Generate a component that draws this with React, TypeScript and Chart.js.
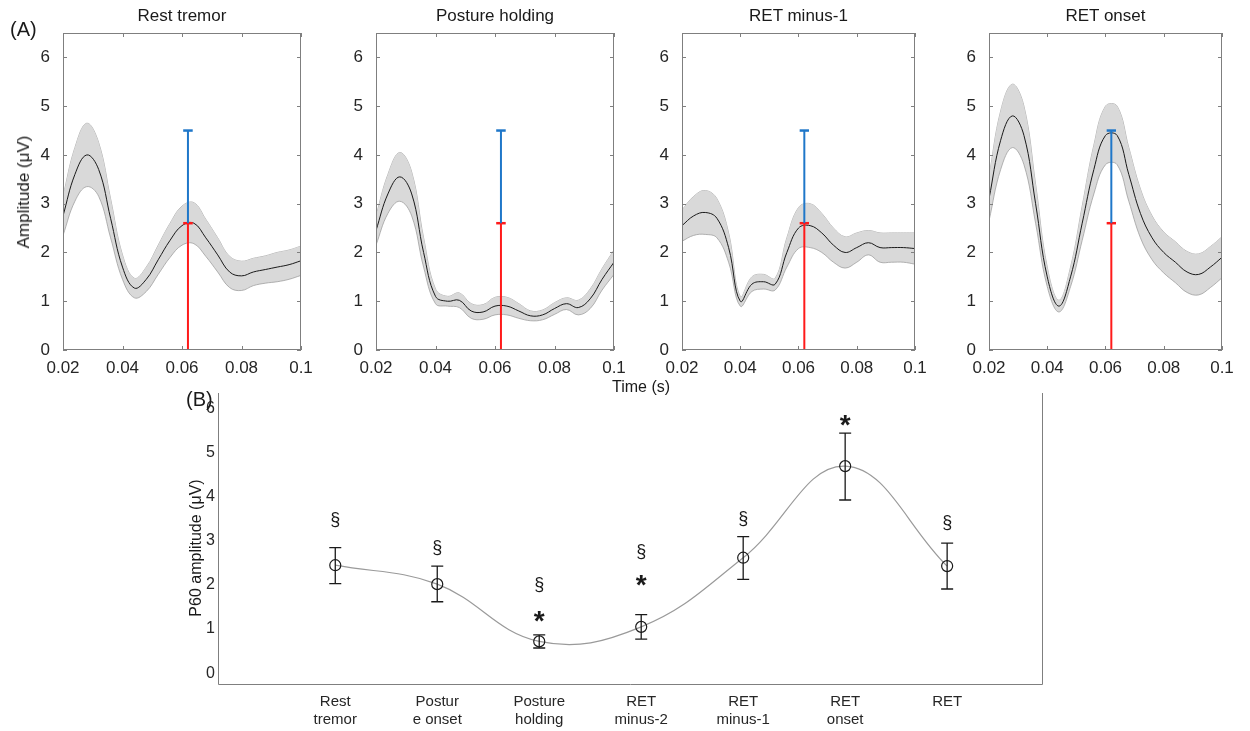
import { useEffect, useRef } from "react"
import { Chart, registerables } from "chart.js"

Chart.register(...registerables)

const FONT = "'Liberation Sans', Arial, sans-serif"

// panel A: evoked waveforms, sampled every 4 ms
const TIMES = [0.02, 0.024, 0.028, 0.032, 0.036, 0.04, 0.044, 0.048, 0.052, 0.056, 0.06, 0.064, 0.068, 0.072, 0.076, 0.08, 0.084, 0.088, 0.092, 0.096, 0.1]

const restMean = [2.75, 3.6, 4.0, 3.7, 2.7, 1.7, 1.27, 1.45, 1.85, 2.25, 2.55, 2.6, 2.3, 1.95, 1.6, 1.52, 1.6, 1.65, 1.7, 1.75, 1.83]
const restSd = [0.4, 0.55, 0.65, 0.55, 0.4, 0.25, 0.2, 0.25, 0.3, 0.35, 0.4, 0.42, 0.38, 0.35, 0.32, 0.3, 0.28, 0.28, 0.3, 0.3, 0.3]

const postureMean = [2.45, 3.2, 3.55, 3.2, 2.0, 1.1, 1.0, 1.02, 0.8, 0.78, 0.9, 0.9, 0.8, 0.7, 0.72, 0.85, 0.95, 0.87, 1.05, 1.45, 1.8]
const postureSd = [0.3, 0.4, 0.5, 0.45, 0.3, 0.15, 0.1, 0.15, 0.15, 0.15, 0.18, 0.18, 0.15, 0.1, 0.1, 0.12, 0.12, 0.15, 0.2, 0.22, 0.25]

const minus1Mean = [2.55, 2.75, 2.82, 2.7, 2.1, 1.0, 1.35, 1.4, 1.35, 2.0, 2.5, 2.55, 2.4, 2.15, 2.0, 2.1, 2.2, 2.1, 2.1, 2.1, 2.08]
const minus1Sd = [0.32, 0.4, 0.45, 0.4, 0.3, 0.1, 0.15, 0.15, 0.12, 0.3, 0.42, 0.45, 0.4, 0.35, 0.32, 0.3, 0.25, 0.3, 0.3, 0.3, 0.32]

const onsetMean = [3.1, 4.3, 4.8, 4.4, 3.0, 1.5, 0.9, 1.5, 2.6, 3.7, 4.4, 4.4, 3.6, 2.8, 2.3, 2.0, 1.8, 1.6, 1.55, 1.7, 1.9]
const onsetSd = [0.45, 0.6, 0.65, 0.6, 0.4, 0.2, 0.12, 0.2, 0.35, 0.5, 0.6, 0.6, 0.55, 0.5, 0.45, 0.42, 0.42, 0.42, 0.42, 0.42, 0.42]

const MARK_T = 0.062
const RED_TOP = 2.6
const BLUE_TOP = 4.5

// panel B: P60 amplitude per condition
const conditions = [["Rest", "tremor"], ["Postur", "e onset"], ["Posture", "holding"], ["RET", "minus-2"], ["RET", "minus-1"], ["RET", "onset"], ["RET"]]
const p60Mean = [2.45, 2.02, 0.72, 1.05, 2.62, 4.7, 2.43]
const p60Upper = [2.85, 2.43, 0.87, 1.33, 3.1, 5.45, 2.95]
const p60Lower = [2.03, 1.62, 0.57, 0.77, 2.13, 3.93, 1.91]
const sectionY = [3.48, 2.84, 2.0, 2.75, 3.5, null, 3.4]
const starY = [null, null, 1.3, 2.1, null, 5.75, null]

type Rect = { l: number; t: number; r: number; b: number }

const noPad = (s: any) => { s.paddingTop = 0; s.paddingBottom = 0; s.paddingLeft = 0; s.paddingRight = 0 }
const noGrid = { display: false, drawTicks: false, tickLength: 0 }

const boxPlugin = {
  id: "box",
  afterDraw(chart: any) {
    const { ctx, chartArea: a, scales } = chart
    ctx.save()
    ctx.strokeStyle = "#7f7f7f"
    ctx.lineWidth = 1
    ctx.strokeRect(a.left + 0.5, a.top + 0.5, a.right - a.left - 1, a.bottom - a.top - 1)
    ctx.beginPath()
    scales.x.ticks.forEach((_: any, i: number) => {
      const px = Math.round(scales.x.getPixelForTick(i)) + 0.5
      ctx.moveTo(px, a.bottom); ctx.lineTo(px, a.bottom - 4)
      ctx.moveTo(px, a.top); ctx.lineTo(px, a.top + 4)
    })
    scales.y.ticks.forEach((_: any, i: number) => {
      const py = Math.round(scales.y.getPixelForTick(i)) + 0.5
      ctx.moveTo(a.left, py); ctx.lineTo(a.left + 4, py)
      ctx.moveTo(a.right, py); ctx.lineTo(a.right - 4, py)
    })
    ctx.stroke()
    ctx.restore()
  },
}

const pts = (ys: number[]) => ys.map((y, i) => ({ x: TIMES[i], y }))

function WavePanel({ rect, mean, sd }: { rect: Rect; mean: number[]; sd: number[] }) {
  const ref = useRef<HTMLCanvasElement>(null)
  const Y = 45, T = 10, R = 12, X = 34
  useEffect(() => {
    if (!ref.current) return
    const cap = 0.0016
    const line = (data: any[], color: string, w = 2) => ({ data, borderColor: color, borderWidth: w, pointRadius: 0, tension: 0, fill: false, order: 0 })
    const chart = new Chart(ref.current, {
      type: "line",
      data: {
        datasets: [
          { data: pts(mean.map((m, i) => m + sd[i])), borderColor: "#a0a0a0", borderWidth: 0.8, pointRadius: 0, tension: 0.4, fill: false, order: 3 },
          { data: pts(mean.map((m, i) => m - sd[i])), borderColor: "#a0a0a0", borderWidth: 0.8, pointRadius: 0, tension: 0.4, fill: "-1", backgroundColor: "#d9d9d9", order: 2 },
          { data: pts(mean), borderColor: "#1a1a1a", borderWidth: 1, pointRadius: 0, tension: 0.4, fill: false, order: 1 },
          line([{ x: MARK_T, y: RED_TOP }, { x: MARK_T, y: BLUE_TOP }], "#1f77c9"),
          line([{ x: MARK_T - cap, y: BLUE_TOP }, { x: MARK_T + cap, y: BLUE_TOP }], "#1f77c9", 2.5),
          line([{ x: MARK_T, y: 0 }, { x: MARK_T, y: RED_TOP }], "#ff1a1a"),
          line([{ x: MARK_T - cap, y: RED_TOP }, { x: MARK_T + cap, y: RED_TOP }], "#ff1a1a", 2.5),
        ] as any,
      },
      options: {
        animation: false,
        responsive: false,
        layout: { padding: { left: 0, top: T, right: R, bottom: 0 } },
        plugins: { legend: { display: false }, tooltip: { enabled: false } },
        scales: {
          x: {
            type: "linear", min: 0.02, max: 0.1,
            afterBuildTicks: (s: any) => { s.ticks = [0.02, 0.04, 0.06, 0.08, 0.1].map((v) => ({ value: v })) },
            afterFit: (s: any) => { s.height = X; noPad(s) },
            ticks: { color: "#262626", font: { family: FONT, size: 17 }, padding: 8, maxRotation: 0, callback: (v: any) => String(Number(v.toFixed(2))) },
            grid: noGrid, border: { display: false },
          },
          y: {
            min: 0, max: 6.5,
            afterBuildTicks: (s: any) => { s.ticks = [0, 1, 2, 3, 4, 5, 6].map((v) => ({ value: v })) },
            afterFit: (s: any) => { s.width = Y; noPad(s) },
            ticks: { color: "#262626", font: { family: FONT, size: 17 }, padding: 13 },
            grid: noGrid, border: { display: false },
          },
        },
      },
      plugins: [boxPlugin],
    })
    return () => chart.destroy()
  }, [])
  const w = Y + rect.r - rect.l + R
  const h = T + rect.b - rect.t + X
  return <canvas ref={ref} width={w} height={h} style={{ position: "absolute", left: rect.l - Y, top: rect.t - T, width: w, height: h }} />
}

const summaryPlugin = {
  id: "summary",
  afterDatasetsDraw(chart: any) {
    const { ctx, chartArea: a, scales } = chart
    const { x, y } = scales
    ctx.save()
    ctx.strokeStyle = "#7f7f7f"
    ctx.lineWidth = 1
    ctx.beginPath()
    ctx.moveTo(a.left + 0.5, a.top); ctx.lineTo(a.left + 0.5, a.bottom - 0.5)
    ctx.lineTo(a.right - 0.5, a.bottom - 0.5); ctx.lineTo(a.right - 0.5, a.top)
    ctx.stroke()
    ctx.strokeStyle = "#1a1a1a"
    ctx.lineWidth = 1.3
    p60Mean.forEach((_, i) => {
      const px = x.getPixelForValue(i + 1)
      const top = y.getPixelForValue(p60Upper[i])
      const bot = y.getPixelForValue(p60Lower[i])
      ctx.beginPath()
      ctx.moveTo(px, top); ctx.lineTo(px, bot)
      ctx.moveTo(px - 6, top); ctx.lineTo(px + 6, top)
      ctx.moveTo(px - 6, bot); ctx.lineTo(px + 6, bot)
      ctx.stroke()
    })
    ctx.fillStyle = "#1a1a1a"
    ctx.textAlign = "center"
    ctx.textBaseline = "middle"
    sectionY.forEach((v, i) => {
      if (v == null) return
      ctx.font = `18px ${FONT}`
      ctx.fillText("§", x.getPixelForValue(i + 1), y.getPixelForValue(v))
    })
    starY.forEach((v, i) => {
      if (v == null) return
      ctx.font = `bold 28px ${FONT}`
      ctx.fillText("*", x.getPixelForValue(i + 1), y.getPixelForValue(v) + 6)
    })
    ctx.restore()
  },
}

function SummaryPanel({ rect }: { rect: Rect }) {
  const ref = useRef<HTMLCanvasElement>(null)
  const Y = 30, T = 10, R = 10, X = 50
  useEffect(() => {
    if (!ref.current) return
    const chart = new Chart(ref.current, {
      type: "line",
      data: {
        datasets: [
          { data: p60Mean.map((v, i) => ({ x: i + 1, y: v })), borderColor: "#9a9a9a", borderWidth: 1.2, tension: 0.4, pointRadius: 5.5, pointBorderColor: "#1a1a1a", pointBorderWidth: 1.2, pointBackgroundColor: "rgba(0,0,0,0)", fill: false },
        ] as any,
      },
      options: {
        animation: false,
        responsive: false,
        layout: { padding: { left: 0, top: T, right: R, bottom: 0 } },
        plugins: { legend: { display: false }, tooltip: { enabled: false } },
        scales: {
          x: {
            type: "linear", min: -0.15, max: 7.94,
            afterBuildTicks: (s: any) => { s.ticks = conditions.map((_, i) => ({ value: i + 1 })) },
            afterFit: (s: any) => { s.height = X; noPad(s) },
            ticks: { color: "#262626", font: { family: FONT, size: 15, lineHeight: 1.2 }, padding: 8, maxRotation: 0, autoSkip: false, callback: (v: any) => conditions[Number(v) - 1] },
            grid: noGrid, border: { display: false },
          },
          y: {
            min: -0.27, max: 6.36,
            afterBuildTicks: (s: any) => { s.ticks = [0, 1, 2, 3, 4, 5, 6].map((v) => ({ value: v })) },
            afterFit: (s: any) => { s.width = Y; noPad(s) },
            ticks: { color: "#262626", font: { family: FONT, size: 16 }, padding: 3 },
            grid: noGrid, border: { display: false },
          },
        },
      },
      plugins: [summaryPlugin],
    })
    return () => chart.destroy()
  }, [])
  const w = Y + rect.r - rect.l + R
  const h = T + rect.b - rect.t + X
  return <canvas ref={ref} width={w} height={h} style={{ position: "absolute", left: rect.l - Y, top: rect.t - T, width: w, height: h }} />
}

const panels = [
  { title: "Rest tremor", rect: { l: 63, r: 301, t: 33, b: 350 }, mean: restMean, sd: restSd },
  { title: "Posture holding", rect: { l: 376, r: 614, t: 33, b: 350 }, mean: postureMean, sd: postureSd },
  { title: "RET minus-1", rect: { l: 682, r: 915, t: 33, b: 350 }, mean: minus1Mean, sd: minus1Sd },
  { title: "RET onset", rect: { l: 989, r: 1222, t: 33, b: 350 }, mean: onsetMean, sd: onsetSd },
]

const txt = (extra: any) => ({ position: "absolute" as const, fontFamily: FONT, color: "#1a1a1a", whiteSpace: "nowrap" as const, ...extra })

export default function App() {
  return (
    <div style={{ position: "absolute", left: 0, top: 0, width: 1250, height: 731, background: "#fff", overflow: "hidden" }}>
      {panels.map((p) => (
        <div key={p.title}>
          <WavePanel rect={p.rect} mean={p.mean} sd={p.sd} />
          <div style={txt({ left: p.rect.l, width: p.rect.r - p.rect.l, top: 6, fontSize: 17, textAlign: "center" })}>{p.title}</div>
        </div>
      ))}
      <SummaryPanel rect={{ l: 218, r: 1043, t: 393, b: 685 }} />
      <div style={txt({ left: 10, top: 18, fontSize: 20 })}>(A)</div>
      <div style={txt({ left: 186, top: 388, fontSize: 20 })}>(B)</div>
      <div style={txt({ left: 612, top: 378, fontSize: 16 })}>Time (s)</div>
      <div style={txt({ left: 24, top: 192, fontSize: 17, transform: "translate(-50%,-50%) rotate(-90deg)" })}>Amplitude (μV)</div>
      <div style={txt({ left: 196, top: 548, fontSize: 16, transform: "translate(-50%,-50%) rotate(-90deg)" })}>P60 amplitude (μV)</div>
    </div>
  )
}
